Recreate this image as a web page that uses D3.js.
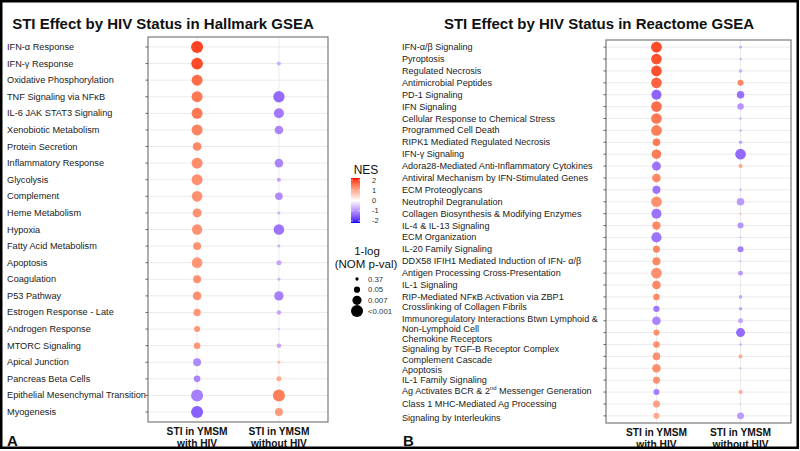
<!DOCTYPE html>
<html><head><meta charset="utf-8">
<script src="https://cdn.jsdelivr.net/npm/d3@7"></script>
<style>body{margin:0;background:#fff}svg{display:block;font-family:"Liberation Sans",Arial,sans-serif}</style>
</head><body><svg id="c" width="800" height="451"></svg>
<script>
// ---------- DATA ----------
const groups = ["with", "without"];
const groupLabels = [["STI in YMSM", "with HIV"], ["STI in YMSM", "without HIV"]];

const hallmarkPathways = ["IFN-α Response","IFN-γ Response","Oxidative Phosphorylation","TNF Signaling via NFκB","IL-6 JAK STAT3 Signaling","Xenobiotic Metabolism","Protein Secretion","Inflammatory Response","Glycolysis","Complement","Heme Metabolism","Hypoxia","Fatty Acid Metabolism","Apoptosis","Coagulation","P53 Pathway","Estrogen Response - Late","Androgen Response","MTORC Signaling","Apical Junction","Pancreas Beta Cells","Epithelial Mesenchymal Transition","Myogenesis"];
const hallmarkNES_with    = [1.95, 1.9, 1.6, 1.5, 1.5, 1.4, 1.35, 1.3, 1.25, 1.25, 1.25, 1.25, 1.25, 1.2, 1.25, 1.25, 1.2, 1.2, 1.2, -1.1, -1.15, -1.2, -1.5];
const hallmarkNES_without = [0.4, -0.75, 0.25, -1.4, -1.25, -1.15, -0.25, -1.15, -0.85, -1.1, -0.75, -1.3, -0.75, -0.85, -0.75, -1.2, -0.85, -0.7, -0.85, 0.85, 0.95, 1.45, 1.15];
const hallmarkLogP_with    = [3, 2.9, 2.7, 2.7, 2.7, 2.7, 2.0, 2.7, 2.7, 2.6, 2.1, 2.5, 1.8, 2.6, 1.8, 2.0, 1.6, 1.25, 1.4, 1.8, 1.4, 3, 3];
const hallmarkLogP_without = [0.05, 0.65, 0, 2.8, 2.4, 2.0, 0, 2.0, 0.65, 1.7, 0.35, 2.6, 0.35, 0.95, 0.35, 2.2, 0.8, 0.05, 0.8, 0.35, 0.95, 3, 1.8];

const reactomePathways = ["IFN-α/β Signaling","Pyroptosis","Regulated Necrosis","Antimicrobial Peptides","PD-1 Signaling","IFN Signaling","Cellular Response to Chemical Stress","Programmed Cell Death","RIPK1 Mediated Regulated Necrosis","IFN-γ Signaling","Adora28-Mediated Anti-Inflammatory Cytokines","Antiviral Mechanism by IFN-Stimulated Genes","ECM Proteoglycans","Neutrophil Degranulation","Collagen Biosynthesis & Modifying Enzymes","IL-4 & IL-13 Signaling","ECM Organization","IL-20 Family Signaling","DDX58 IFIH1 Mediated Induction of IFN- α/β","Antigen Processing Cross-Presentation","IL-1 Signaling","RIP-Mediated NFκB Activation via ZBP1","Crosslinking of Collagen Fibrils","Immunoregulatory Interactions Btwn Lymphoid &|Non-Lymphoid Cell","Chemokine Receptors","Signaling by TGF-B Receptor Complex","Complement Cascade","Apoptosis","IL-1 Family Signaling","Ag Activates BCR & 2^nd^ Messenger Generation","Class 1 MHC-Mediated Ag Processing","Signaling by Interleukins"];
const reactomeNES_with    = [1.9, 1.85, 1.85, 1.7, -1.45, 1.6, 1.5, 1.45, 1.5, 1.45, -1.3, 1.35, -1.3, 1.25, -1.3, 1.35, -1.3, 1.4, 1.35, 1.25, 1.35, 1.35, -1.25, -1.15, 1.25, 1.25, 1.25, 1.25, 1.25, -1.2, 1.1, 1.0];
const reactomeNES_without = [-0.75, -0.7, -0.75, 1.35, -1.35, -1.0, -0.7, -0.7, -0.85, -1.4, 1.0, -0.25, -0.75, -0.95, 0.7, -1.0, -0.7, -1.2, -0.7, -0.95, -0.35, -0.85, -0.85, -0.85, -1.4, -0.75, 0.95, -0.7, -0.4, 1.0, -0.6, -0.95];
const reactomeLogP_with    = [3, 2.95, 2.95, 2.95, 2.75, 2.95, 2.95, 2.95, 1.95, 2.6, 2.4, 2.3, 2.1, 2.95, 2.75, 2.2, 2.8, 1.75, 2.1, 2.95, 2.3, 1.6, 1.55, 2.3, 1.45, 1.6, 1.95, 2.3, 1.75, 1.45, 1.75, 1.45];
const reactomeLogP_without = [0.45, 0.25, 0.65, 1.45, 1.95, 1.6, 0.3, 0.3, 0.65, 2.95, 0.8, 0.05, 0.3, 1.95, 0.25, 1.45, 0.15, 1.45, 0.15, 1.1, 0, 0.65, 0.65, 1.1, 2.4, 0.3, 0.8, 0.15, 0, 0.8, 0, 1.75];

const nesTicks = [2, 1, 0, -1, -2];
const pvalLegend = [0.37, 0.05, 0.007, 0.001];
const pvalLegendLabels = ["0.37", "0.05", "0.007", "<0.001"];

// ---------- DRAW ----------
const svg = d3.select("#c");
svg.append("rect").attr("width", 800).attr("height", 451).attr("fill", "#fff");

const color = d3.scaleLinear().domain([-2.2, 0, 2.2]).range(["#0000ff", "#ffffff", "#ff0000"])
  .interpolate(d3.interpolateLab).clamp(true);

// small text nudges for crowded reactome labels (label text only, not marks)
const labelNudge = {
  "Crosslinking of Collagen Fibrils": -1.5,
  "Immunoregulatory Interactions Btwn Lymphoid &|Non-Lymphoid Cell": 3.5,
  "Chemokine Receptors": 6.5,
  "Signaling by TGF-B Receptor Complex": 5,
  "Complement Cascade": 4,
  "Apoptosis": 2,
  "Ag Activates BCR & 2^nd^ Messenger Generation": -1,
  "Signaling by Interleukins": 2.5
};

function drawPanel(cfg) {
  const g = svg.append("g");
  const x = d3.scalePoint().domain(groups).range([cfg.x0, cfg.x1]).padding(0.6);
  const y = d3.scalePoint().domain(cfg.pathways).range([cfg.y0, cfg.y1]).padding(0.6);
  const r = d3.scaleLinear().domain([0, 3]).range(cfg.rRange).clamp(true);

  g.selectAll(".hg").data(cfg.pathways).join("line")
    .attr("x1", cfg.x0).attr("x2", cfg.x1).attr("y1", d => y(d)).attr("y2", d => y(d))
    .attr("stroke", "#ebebeb").attr("stroke-width", 1);
  g.selectAll(".vg").data(groups).join("line")
    .attr("x1", d => x(d)).attr("x2", d => x(d)).attr("y1", cfg.y0).attr("y2", cfg.y1)
    .attr("stroke", "#ebebeb").attr("stroke-width", 1);

  const rows = [];
  cfg.pathways.forEach((p, i) => {
    rows.push({p, grp: "with", nes: cfg.nesWith[i], lp: cfg.lpWith[i]});
    rows.push({p, grp: "without", nes: cfg.nesWithout[i], lp: cfg.lpWithout[i]});
  });
  g.selectAll(".dot").data(rows).join("circle")
    .attr("cx", d => x(d.grp)).attr("cy", d => y(d.p)).attr("r", d => r(d.lp))
    .attr("fill", d => color(d.nes));

  g.append("rect").attr("x", cfg.x0).attr("y", cfg.y0)
    .attr("width", cfg.x1 - cfg.x0).attr("height", cfg.y1 - cfg.y0)
    .attr("fill", "none").attr("stroke", "#7a7a7a").attr("stroke-width", 1.2);

  g.selectAll(".yt").data(cfg.pathways).join("line")
    .attr("x1", cfg.x0 - 2.5).attr("x2", cfg.x0).attr("y1", d => y(d)).attr("y2", d => y(d))
    .attr("stroke", "#444").attr("stroke-width", 0.8);

  cfg.pathways.forEach(p => {
    const lines = p.split("|");
    const nud = cfg.nudge ? (labelNudge[p] || 0) : 0;
    lines.forEach((ln, k) => {
      const t = g.append("text").attr("x", cfg.labelX)
        .attr("y", y(p) + nud + (k - (lines.length - 1) / 2) * cfg.lineH)
        .attr("dominant-baseline", "central")
        .attr("font-size", cfg.labelSize).attr("fill", "#1a1a1a");
      const parts = ln.split("^");
      parts.forEach((pt, j) => {
        const ts = t.append("tspan").text(pt);
        if (j % 2 === 1) ts.attr("font-size", cfg.labelSize * 0.65).attr("dy", -3.2);
        else if (j > 0) ts.attr("dy", 3.2);
      });
    });
  });

  groups.forEach((gr, i) => {
    groupLabels[i].forEach((ln, k) => {
      g.append("text").attr("x", x(gr)).attr("y", cfg.xlabY + k * 12)
        .attr("text-anchor", "middle").attr("dominant-baseline", "central")
        .attr("font-size", 10.2).attr("font-weight", "bold").attr("fill", "#111").text(ln);
    });
  });

  g.append("text").attr("x", cfg.titleX).attr("y", 23).attr("text-anchor", "middle")
    .attr("dominant-baseline", "central").attr("font-size", 15).attr("font-weight", "bold")
    .attr("fill", "#111").text(cfg.title);

  g.append("text").attr("x", cfg.letterX).attr("y", 440).attr("dominant-baseline", "central")
    .attr("font-size", 15).attr("font-weight", "bold").attr("fill", "#111").text(cfg.letter);
}

drawPanel({
  pathways: hallmarkPathways, nesWith: hallmarkNES_with, nesWithout: hallmarkNES_without,
  lpWith: hallmarkLogP_with, lpWithout: hallmarkLogP_without,
  x0: 148, x1: 328, y0: 37, y1: 422, rRange: [0.9, 6],
  labelX: 7, labelSize: 9.2, lineH: 10, xlabY: 431, nudge: false,
  title: "STI Effect by HIV Status in Hallmark GSEA", titleX: 163, letter: "A", letterX: 7
});
drawPanel({
  pathways: reactomePathways, nesWith: reactomeNES_with, nesWithout: reactomeNES_without,
  lpWith: reactomeLogP_with, lpWithout: reactomeLogP_without,
  x0: 606, x1: 791, y0: 40, y1: 423, rRange: [0.8, 5.4],
  labelX: 402, labelSize: 9.1, lineH: 9.6, xlabY: 432, nudge: true,
  title: "STI Effect by HIV Status in Reactome GSEA", titleX: 599, letter: "B", letterX: 403
});

// ---------- LEGEND ----------
const lg = svg.append("g");
lg.append("text").attr("x", 366).attr("y", 170).attr("text-anchor", "middle")
  .attr("dominant-baseline", "central").attr("font-size", 12).attr("fill", "#111").text("NES");
const cbY = d3.scaleLinear().domain([-2.2, 2.2]).range([223, 178]);
const defs = svg.append("defs");
const grad = defs.append("linearGradient").attr("id", "nesgrad")
  .attr("x1", 0).attr("y1", 1).attr("x2", 0).attr("y2", 0);
d3.range(0, 1.0001, 0.05).forEach(t => {
  grad.append("stop").attr("offset", t).attr("stop-color", color(-2.2 + 4.4 * t));
});
lg.append("rect").attr("x", 351).attr("y", cbY(2.2)).attr("width", 9)
  .attr("height", cbY(-2.2) - cbY(2.2)).attr("fill", "url(#nesgrad)");
nesTicks.forEach(v => {
  lg.append("line").attr("x1", 351).attr("x2", 353).attr("y1", cbY(v)).attr("y2", cbY(v)).attr("stroke", "#fff").attr("stroke-width", 0.6);
  lg.append("line").attr("x1", 358).attr("x2", 360).attr("y1", cbY(v)).attr("y2", cbY(v)).attr("stroke", "#fff").attr("stroke-width", 0.6);
  lg.append("text").attr("x", 372).attr("y", cbY(v)).attr("dominant-baseline", "central")
    .attr("font-size", 7.5).attr("fill", "#333").text(v);
});

lg.append("text").attr("x", 367).attr("y", 250.5).attr("text-anchor", "middle")
  .attr("dominant-baseline", "central").attr("font-size", 11.5).attr("fill", "#111").text("1-log");
lg.append("text").attr("x", 366).attr("y", 264).attr("text-anchor", "middle")
  .attr("dominant-baseline", "central").attr("font-size", 11.5).attr("fill", "#111").text("(NOM p-val)");
const rLeg = d3.scaleLinear().domain([0, 3]).range([0.9, 6]).clamp(true);
const legY = d3.scalePoint().domain(pvalLegendLabels).range([279, 311]);
pvalLegend.forEach((p, i) => {
  const lab = pvalLegendLabels[i];
  lg.append("circle").attr("cx", 357).attr("cy", legY(lab)).attr("r", rLeg(-Math.log10(p))).attr("fill", "#000");
  lg.append("text").attr("x", 368).attr("y", legY(lab)).attr("dominant-baseline", "central")
    .attr("font-size", 7.8).attr("fill", "#333").text(lab);
});

svg.append("rect").attr("x", 1.25).attr("y", 1.25).attr("width", 796.5).attr("height", 446.5)
  .attr("fill", "none").attr("stroke", "#000").attr("stroke-width", 2.5);
</script></body></html>
